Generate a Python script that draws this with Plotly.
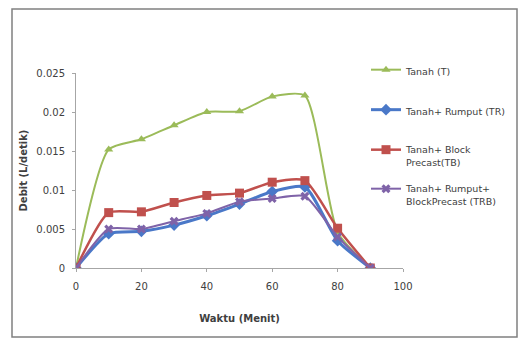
import plotly.graph_objects as go

waktu = [0, 10, 20, 30, 40, 50, 60, 70, 80, 90]
tanah_T = [0, 0.0152, 0.0165, 0.0183, 0.0200, 0.0201, 0.0220, 0.0221, 0.0046, 0]
tanah_TR = [0, 0.0044, 0.0047, 0.0055, 0.0067, 0.0082, 0.0098, 0.0104, 0.0035, 0]
tanah_TB = [0, 0.0071, 0.0072, 0.0084, 0.0093, 0.0096, 0.0110, 0.0112, 0.0051, 0]
tanah_TRB = [0, 0.0050, 0.0050, 0.0060, 0.0070, 0.0085, 0.0089, 0.0092, 0.0040, 0]

names = ["Tanah (T)", "Tanah+ Rumput (TR)", "Tanah+ Block<br>Precast(TB)", "Tanah+ Rumput+<br>BlockPrecast (TRB)"]
series = [tanah_T, tanah_TR, tanah_TB, tanah_TRB]
colors = ["#9BBB59", "#4A78C8", "#C0504D", "#7F63A8"]
symbols = ["triangle-up", "diamond", "square", "x"]
sizes = [8, 9, 9, 8]
widths = [2, 3, 2.5, 2]
legend_ids = ["legend", "legend2", "legend3", "legend4"]
legend_top_px = [57, 97, 137, 176]

FONT = "DejaVu Sans, sans-serif"
TXT = "#404040"

fig = go.Figure()
for i, (nm, ys) in enumerate(zip(names, series)):
    fig.add_trace(go.Scatter(
        x=waktu, y=ys, name=nm, mode="lines+markers",
        line=dict(color=colors[i], width=widths[i], shape="spline", smoothing=0.6),
        marker=dict(symbol=symbols[i], size=sizes[i], color=colors[i]),
        legend=legend_ids[i],
    ))

H_PLOT = 195.0
W_PLOT = 327.0
legend_cfg = {}
for i, lid in enumerate(legend_ids):
    legend_cfg[lid] = dict(
        x=(366 - 76) / W_PLOT, y=(268 - legend_top_px[i]) / H_PLOT,
        xanchor="left", yanchor="top", valign="top",
        font=dict(family=FONT, size=9.5, color=TXT),
        bgcolor="rgba(0,0,0,0)", itemwidth=30,
    )

fig.update_layout(
    width=527, height=341,
    margin=dict(l=76, r=124, t=73, b=73),
    paper_bgcolor="white", plot_bgcolor="white",
    font=dict(family=FONT, size=10, color=TXT),
    showlegend=True,
    xaxis=dict(range=[0, 100], tickvals=[0, 20, 40, 60, 80, 100], showgrid=False,
               zeroline=False, showline=True, linecolor="#A6A6A6", linewidth=1,
               ticks="outside", ticklen=3, tickcolor="#A6A6A6", ticklabelstandoff=6,
               tickfont=dict(family=FONT, size=10, color=TXT),
               title=dict(text="<b>Waktu (Menit)</b>", font=dict(family=FONT, size=10, color=TXT), standoff=23)),
    yaxis=dict(range=[0, 0.025], tickvals=[0, 0.005, 0.01, 0.015, 0.02, 0.025],
               ticktext=["0", "0.005", "0.01", "0.015", "0.02", "0.025"], showgrid=False,
               zeroline=False, showline=True, linecolor="#A6A6A6", linewidth=1,
               ticks="outside", ticklen=3, tickcolor="#A6A6A6", ticklabelstandoff=5,
               tickfont=dict(family=FONT, size=10, color=TXT),
               title=dict(text="<b>Debit (L/detik)</b>", font=dict(family=FONT, size=10, color=TXT), standoff=6)),
    shapes=[dict(type="rect", xref="paper", yref="paper",
                 x0=(12 - 76) / W_PLOT, x1=(517 - 76) / W_PLOT,
                 y0=(268 - 337) / H_PLOT, y1=(268 - 9) / H_PLOT,
                 line=dict(color="#808080", width=1.5), layer="below")],
    **legend_cfg,
)

fig.write_html("out.html")
